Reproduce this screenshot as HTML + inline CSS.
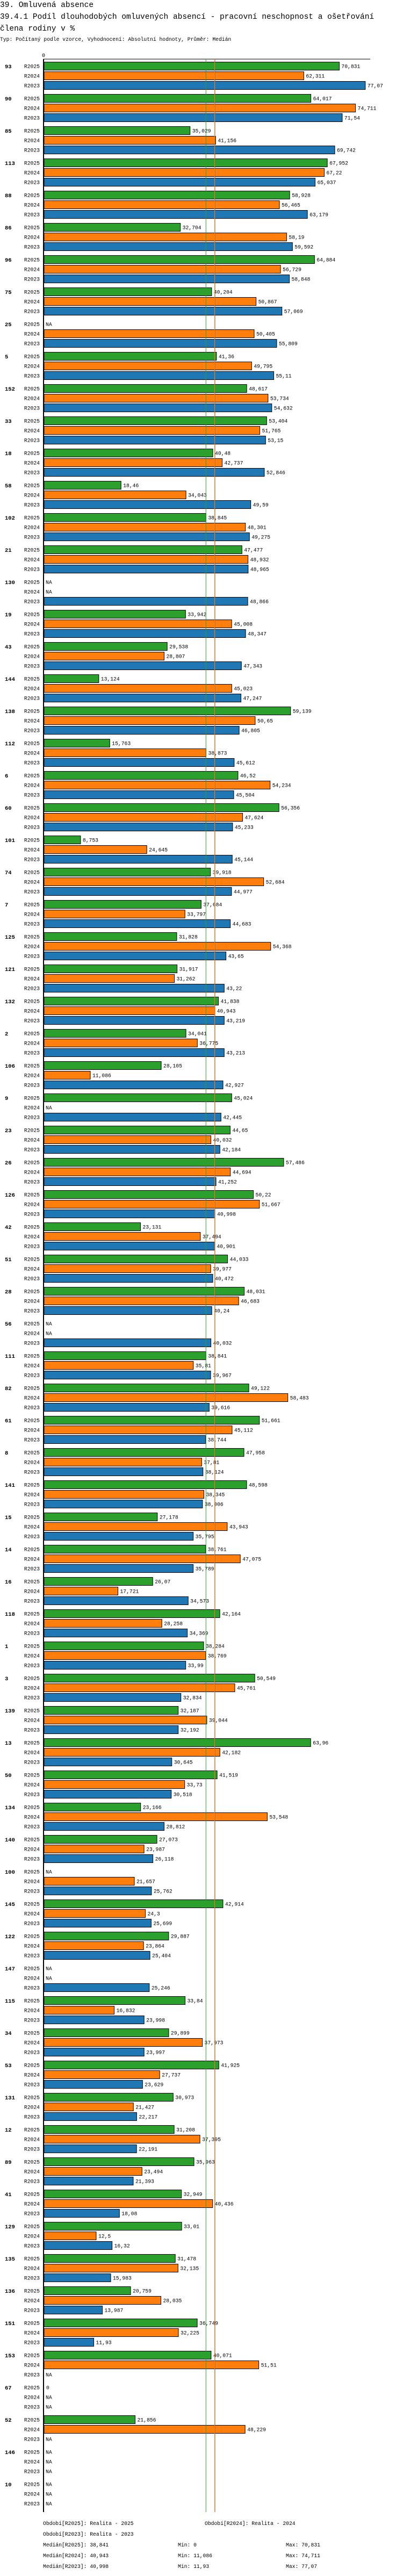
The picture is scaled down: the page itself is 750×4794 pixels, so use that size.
<!DOCTYPE html>
<html><head><meta charset="utf-8">
<style>
html,body{margin:0;padding:0;background:#fff;}
svg{display:block;}
text{font-family:"Liberation Mono",monospace;}
</style></head>
<body>
<svg id="chart" width="750" height="4794" viewBox="0 0 750 4794" xmlns="http://www.w3.org/2000/svg">
<text x="0" y="13" font-size="14.5">39. Omluvená absence</text>
<text x="0" y="35" font-size="14.5">39.4.1 Podíl dlouhodobých omluvených absencí - pracovní neschopnost a ošetřování</text>
<text x="0" y="57" font-size="14.5">člena rodiny v %</text>
<text x="0" y="76" font-size="9.7">Typ: Počítaný podle vzorce, Vyhodnocení: Absolutní hodnoty, Průměr: Medián</text>
<g id="plot"></g>
<g id="legend"></g>
</svg>
<script>
const categories = ["93","90","85","113","88","86","96","75","25","5","152","33","18","58","102","21","130","19","43","144","138","112","6","60","101","74","7","125","121","132","2","106","9","23","26","126","42","51","28","56","111","82","61","8","141","15","14","16","118","1","3","139","13","50","134","140","100","145","122","147","115","34","53","131","12","89","41","129","135","136","151","153","67","52","146","10"];
const seriesNames = ["R2025","R2024","R2023"];
const values2025 = [70.831,64.017,35.029,67.952,58.928,32.704,64.884,40.204,null,41.36,48.617,53.404,40.48,18.46,38.845,47.477,null,33.942,29.538,13.124,59.139,15.763,46.52,56.356,8.753,39.918,37.684,31.828,31.917,41.838,34.041,28.105,45.024,44.65,57.486,50.22,23.131,44.033,48.031,null,38.841,49.122,51.661,47.958,48.598,27.178,38.761,26.07,42.164,38.284,50.549,32.187,63.96,41.519,23.166,27.073,null,42.914,29.887,null,33.84,29.899,41.925,30.973,31.208,35.963,32.949,33.01,31.478,20.759,36.749,40.071,0,21.856,null,null];
const values2024 = [62.311,74.711,41.156,67.22,56.465,58.19,56.729,50.867,50.405,49.795,53.734,51.765,42.737,34.043,48.301,48.932,null,45.008,28.807,45.023,50.65,38.873,54.234,47.624,24.645,52.684,33.797,54.368,31.262,40.943,36.775,11.086,null,40.032,44.694,51.667,37.494,39.977,46.683,null,35.81,58.483,45.112,37.81,38.345,43.943,47.075,17.721,28.258,38.769,45.761,39.044,42.182,33.73,53.548,23.987,21.657,24.3,23.864,null,16.832,37.973,27.737,21.427,37.395,23.494,40.436,12.5,32.135,28.035,32.225,51.51,null,48.229,null,null];
const values2023 = [77.07,71.54,69.742,65.037,63.179,59.592,58.848,57.069,55.809,55.11,54.632,53.15,52.846,49.59,49.275,48.965,48.866,48.347,47.343,47.247,46.805,45.612,45.504,45.233,45.144,44.977,44.683,43.65,43.22,43.219,43.213,42.927,42.445,42.184,41.252,40.998,40.901,40.472,40.24,40.032,39.967,39.616,38.744,38.124,38.006,35.795,35.789,34.573,34.369,33.99,32.834,32.192,30.645,30.518,28.812,26.118,25.762,25.699,25.404,25.246,23.998,23.997,23.629,22.217,22.191,21.393,18.08,16.32,15.983,13.987,11.93,null,null,null,null,null];
const medians = [38.841,40.943,40.998];
const colors = ["#2ca02c","#ff7f0e","#1f77b4"];

const NS="http://www.w3.org/2000/svg";
const X0=81, K=7.757, TOP=123, GP=60, RP=18, BH=15;
const xs=v=>X0+1+v*K;
const ys=(g,r)=>TOP+g*GP+r*RP;
const fmt=v=>String(v).replace('.',',');
const plot=document.getElementById('plot');
function mk(tag,attrs,parent){const e=document.createElementNS(NS,tag);for(const k in attrs)e.setAttribute(k,attrs[k]);(parent||plot).appendChild(e);return e;}

// top line, zero label
let e=mk('line',{x1:X0,y1:110,x2:689,y2:110,stroke:'#000','stroke-width':1});


e=mk('text',{x:X0,y:106,'font-size':10,'text-anchor':'middle'});e.textContent='0';



const all=[values2025,values2024,values2023];
categories.forEach((c,g)=>{
  const gl=mk('text',{x:9,y:ys(g,0)+4,'font-size':10.5,'font-weight':'bold'});gl.textContent=c;
  
  
  for(let r=0;r<3;r++){
    const y=ys(g,r);
    const rl=mk('text',{x:74,y:y+3.5,'font-size':9.7,'text-anchor':'end'});rl.textContent=seriesNames[r];
    
    
    const v=all[r][g];
    if(v===null){
      const t=mk('text',{x:X0+4,y:y+3.5,'font-size':9.7});t.textContent='NA';
      
      
      continue;
    }
    if(v>0){
      const b=mk('rect',{x:X0+1,y:y-7.5,width:v*K,height:BH,fill:colors[r],stroke:'#000','stroke-width':1});
      
      
    }
    const t=mk('text',{x:xs(v)+4,y:y+3.5,'font-size':9.7});t.textContent=fmt(v);
    
    
  }
});
// median lines
const mOrder=[0,2,1];
mOrder.forEach(i=>{
  const ml=mk('line',{x1:xs(medians[i]),y1:110,x2:xs(medians[i]),y2:4675,stroke:colors[i],'stroke-width':1});
  
  
});
// axis
e=mk('line',{x1:X0,y1:110,x2:X0,y2:4675,stroke:'#000','stroke-width':2});



const lg=document.getElementById('legend');
const legendItems=[
 [80,4699,"Období[R2025]: Realita - 2025"],
 [381,4699,"Období[R2024]: Realita - 2024"],
 [80,4719,"Období[R2023]: Realita - 2023"],
 [80,4739,"Medián[R2025]: 38,841"],[331,4739,"Min: 0"],[532,4739,"Max: 70,831"],
 [80,4759,"Medián[R2024]: 40,943"],[331,4759,"Min: 11,086"],[532,4759,"Max: 74,711"],
 [80,4779,"Medián[R2023]: 40,998"],[331,4779,"Min: 11,93"],[532,4779,"Max: 77,07"]
];
legendItems.forEach(it=>{
  const t=mk('text',{x:it[0],y:it[1],'font-size':9.7},lg);t.textContent=it[2];
  
  
});
</script>
</body></html>
